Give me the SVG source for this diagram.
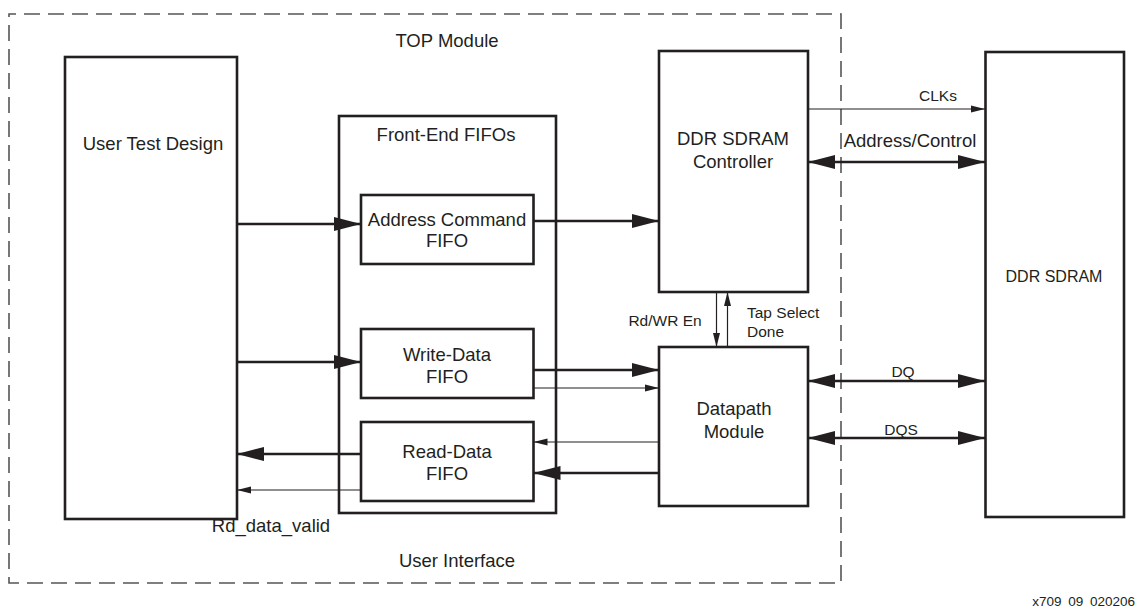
<svg xmlns="http://www.w3.org/2000/svg" width="1139" height="609" viewBox="0 0 1139 609">
<style>
text{font-family:"Liberation Sans",Arial,sans-serif;fill:#231f20;text-anchor:middle}
.box{fill:#fff;stroke:#231f20;stroke-width:2.6}
.lg{font-size:18.5px}
.sm{font-size:15.5px}
.thick{stroke:#231f20;stroke-width:2.6;fill:none}
.thin{stroke:#231f20;stroke-width:1.2;fill:none}
.dash{fill:none;stroke:#555;stroke-width:1.6;stroke-dasharray:16 8;stroke-dashoffset:9}
</style>
<defs>
<marker id="big" markerUnits="userSpaceOnUse" markerWidth="28" markerHeight="14" refX="27" refY="7" orient="auto-start-reverse" viewBox="0 0 28 14">
<path d="M0,0 L27,7 L0,14 z" fill="#231f20"/>
</marker>
<marker id="small" markerUnits="userSpaceOnUse" markerWidth="15" markerHeight="8" refX="14" refY="4" orient="auto-start-reverse" viewBox="0 0 15 8">
<path d="M0,0.5 L14,4 L0,7.5 z" fill="#231f20"/>
</marker>
</defs>
<rect width="1139" height="609" fill="#fff"/>
<g id="top-module">
<rect class="dash" x="9" y="14" width="832" height="569"/>
<text class="lg" x="447" y="47">TOP Module</text>
<text class="lg" x="457" y="567">User Interface</text>
</g>
<g id="user-test-design">
<rect class="box" x="65" y="57" width="172" height="462"/>
<text class="lg" x="153" y="150">User Test Design</text>
</g>
<g id="front-end-fifos">
<rect class="box" x="339" y="116" width="217" height="397"/>
<text class="lg" x="446" y="141">Front-End FIFOs</text>
</g>
<g id="address-command-fifo">
<rect class="box" x="361" y="195" width="172.5" height="69"/>
<text class="lg" x="447" y="226">Address Command</text>
<text class="lg" x="447" y="247">FIFO</text>
</g>
<g id="write-data-fifo">
<rect class="box" x="361" y="329" width="172.5" height="69"/>
<text class="lg" x="447" y="361">Write-Data</text>
<text class="lg" x="447" y="383">FIFO</text>
</g>
<g id="read-data-fifo">
<rect class="box" x="361" y="422" width="172.5" height="79"/>
<text class="lg" x="447" y="458">Read-Data</text>
<text class="lg" x="447" y="480">FIFO</text>
</g>
<g id="ddr-sdram-controller">
<rect class="box" x="659" y="51" width="149" height="241"/>
<text class="lg" x="733" y="145">DDR SDRAM</text>
<text class="lg" x="733" y="168">Controller</text>
</g>
<g id="datapath-module">
<rect class="box" x="659" y="347" width="149" height="159"/>
<text class="lg" x="734" y="415">Datapath</text>
<text class="lg" x="734" y="438">Module</text>
</g>
<g id="ddr-sdram">
<rect class="box" x="985.5" y="52" width="138.5" height="465"/>
<text x="1054" y="282" style="font-size:16px">DDR SDRAM</text>
</g>
<g id="connectors">
<line class="thick" x1="237" y1="224" x2="361" y2="224" marker-end="url(#big)"/>
<line class="thick" x1="533.5" y1="221" x2="659" y2="221" marker-end="url(#big)"/>
<line class="thin" x1="808" y1="109" x2="985" y2="109" marker-end="url(#small)"/>
<line class="thick" x1="808" y1="162" x2="985" y2="162" marker-start="url(#big)" marker-end="url(#big)"/>
<line class="thin" x1="716.5" y1="292" x2="716.5" y2="347" marker-end="url(#small)"/>
<line class="thin" x1="727.5" y1="347" x2="727.5" y2="292" marker-end="url(#small)"/>
<line class="thick" x1="237" y1="362" x2="361" y2="362" marker-end="url(#big)"/>
<line class="thick" x1="533.5" y1="370" x2="659" y2="370" marker-end="url(#big)"/>
<line class="thin" x1="533.5" y1="388" x2="659" y2="388" marker-end="url(#small)"/>
<line class="thin" x1="659" y1="442" x2="533.5" y2="442" marker-end="url(#small)"/>
<line class="thick" x1="659" y1="473" x2="533.5" y2="473" marker-end="url(#big)"/>
<line class="thick" x1="361" y1="454" x2="237" y2="454" marker-end="url(#big)"/>
<line class="thin" x1="361" y1="490" x2="237" y2="490" marker-end="url(#small)"/>
<line class="thick" x1="808" y1="381" x2="985" y2="381" marker-start="url(#big)" marker-end="url(#big)"/>
<line class="thick" x1="808" y1="438" x2="985" y2="438" marker-start="url(#big)" marker-end="url(#big)"/>
</g>
<g id="labels">
<text class="sm" x="938" y="101">CLKs</text>
<text class="lg" x="910" y="147">Address/Control</text>
<text class="sm" x="665" y="326">Rd/WR En</text>
<text class="sm" x="747" y="318" style="text-anchor:start">Tap Select</text>
<text class="sm" x="747" y="337" style="text-anchor:start">Done</text>
<text class="sm" x="903" y="377">DQ</text>
<text class="sm" x="901" y="435">DQS</text>
<text class="lg" x="271" y="532">Rd_data_valid</text>
<text x="1135" y="606" style="font-size:13.5px;text-anchor:end;word-spacing:3px">x709 09 020206</text>
</g>
</svg>
